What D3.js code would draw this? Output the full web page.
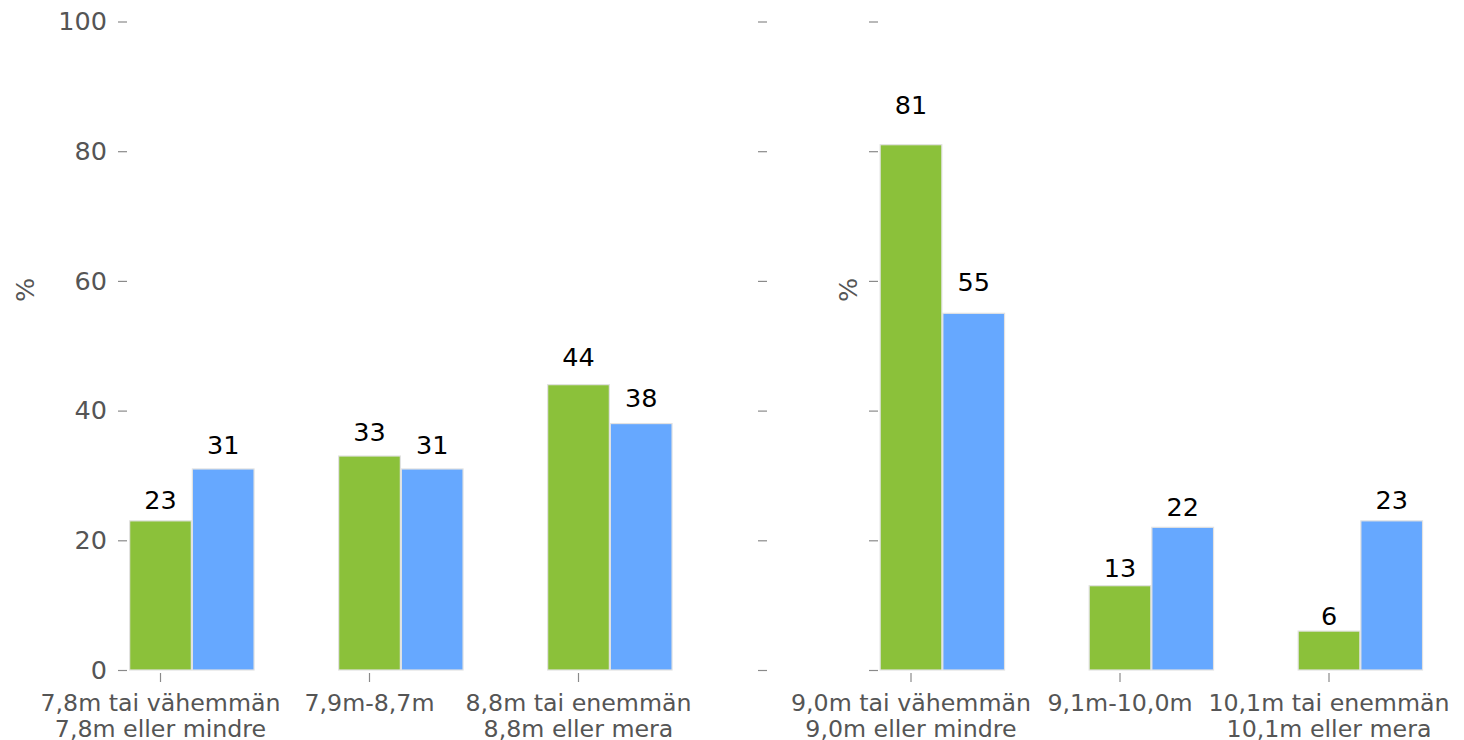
<!DOCTYPE html>
<html>
<head>
<meta charset="utf-8">
<script src="https://cdn.jsdelivr.net/npm/d3@7"></script>
<style>
  html, body { margin: 0; padding: 0; background: #fff; }
  svg { display: block; font-family: "DejaVu Sans", sans-serif; }
</style>
</head>
<body>
<svg id="chart" width="1464" height="740"></svg>
<script>
// ---- data ----
const leftCategories = [["7,8m tai vähemmän", "7,8m eller mindre"], ["7,9m-8,7m"], ["8,8m tai enemmän", "8,8m eller mera"]];
const leftGreen = [23, 33, 44];
const leftBlue = [31, 31, 38];
const rightCategories = [["9,0m tai vähemmän", "9,0m eller mindre"], ["9,1m-10,0m"], ["10,1m tai enemmän", "10,1m eller mera"]];
const rightGreen = [81, 13, 6];
const rightBlue = [55, 22, 23];
const yTicks = [0, 20, 40, 60, 80, 100];
const yLabel = "%";

// ---- style ----
const GREEN = "#8bc13a";
const BLUE = "#66a8ff";
const EDGE = "#e2e2e2";
const TICK = "#8a8a8a";
const TEXT = "#555555";

const svg = d3.select("#chart");
const y = d3.scaleLinear().domain([0, 100]).range([670, 21.5]);

function yAxis(xPos, withLabels) {
  const ax = d3.axisLeft(y).tickValues(yTicks).tickSize(9).tickPadding(11)
    .tickFormat(withLabels ? d3.format("d") : () => "");
  const g = svg.append("g").attr("transform", `translate(${xPos},0)`).call(ax);
  g.select(".domain").remove();
  g.selectAll(".tick line").attr("stroke", TICK).attr("stroke-width", 1.2);
  g.selectAll(".tick text").attr("fill", TEXT).style("font-size", "25.5px")
    .style("font-family", "DejaVu Sans");
  return g;
}

function panel(opts) {
  const { cats, green, blue, tickStart, tickEnd, axisX, labelX } = opts;
  const x = d3.scaleLinear().domain([0, 2]).range([tickStart, tickEnd]);
  const bw = x(0.3) - x(0);
  const idx = d3.range(cats.length);

  yAxis(axisX, opts.withLabels);

  // y label
  svg.append("text").attr("transform", `translate(${labelX},290) rotate(-90)`)
    .attr("text-anchor", "middle").attr("dominant-baseline", "central")
    .attr("fill", TEXT).style("font-size", "25.5px").text(yLabel);

  const series = [{ vals: green, col: GREEN, off: 0 }, { vals: blue, col: BLUE, off: 0.3 }];
  series.forEach(s => {
    svg.append("g").selectAll("rect").data(idx).join("rect")
      .attr("x", i => x(i + s.off) - bw / 2 + 0.5)
      .attr("width", bw - 1)
      .attr("y", i => y(s.vals[i]))
      .attr("height", i => y(0) - y(s.vals[i]))
      .attr("fill", s.col).attr("stroke", EDGE).attr("stroke-width", 1.2);
    svg.append("g").selectAll("text").data(idx).join("text")
      .attr("x", i => x(i + s.off))
      .attr("y", i => y(s.vals[i] * 1.05) - 4.5)
      .attr("text-anchor", "middle").attr("fill", "#000")
      .style("font-size", "25.5px").text(i => s.vals[i]);
  });

  // x ticks
  const xa = svg.append("g");
  idx.forEach(i => {
    xa.append("line").attr("x1", x(i)).attr("x2", x(i)).attr("y1", 673).attr("y2", 682)
      .attr("stroke", TICK).attr("stroke-width", 1.2);
    const t = xa.append("text").attr("text-anchor", "middle").attr("fill", TEXT)
      .style("font-size", "23.7px");
    cats[i].forEach((line, k) => {
      t.append("tspan").attr("x", x(i)).attr("y", 711 + k * 25.5).text(line);
    });
  });
}

panel({ cats: leftCategories, green: leftGreen, blue: leftBlue, tickStart: 160.5, tickEnd: 578.5, axisX: 127, labelX: 25, withLabels: true });
// extra unlabeled tick column between panels
yAxis(767, false);
panel({ cats: rightCategories, green: rightGreen, blue: rightBlue, tickStart: 911, tickEnd: 1329, axisX: 878, labelX: 848, withLabels: false });
</script>
</body>
</html>
